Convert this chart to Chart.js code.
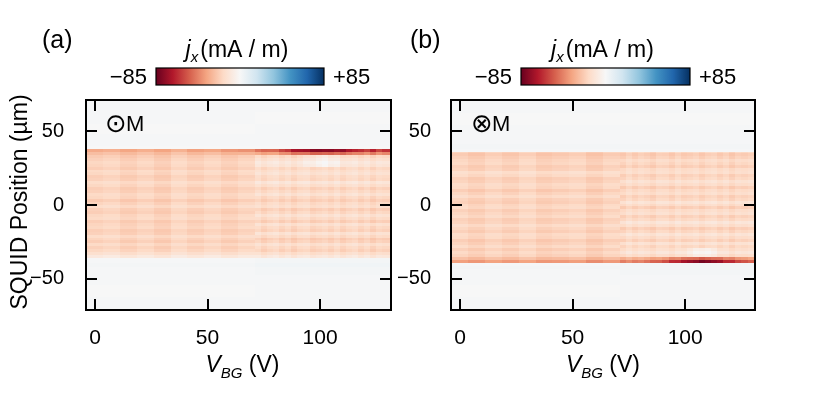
<!DOCTYPE html>
<html><head><meta charset="utf-8">
<script src="https://cdn.jsdelivr.net/npm/chart.js@4.4.0/dist/chart.umd.min.js"></script>
<style>
html,body{margin:0;padding:0;background:#fff;width:818px;height:398px;overflow:hidden}
.wrap{position:absolute;top:0;height:398px}
</style></head><body>
<div class="wrap" style="left:0;width:395px"><canvas id="ca" width="395" height="398"></canvas></div>
<div class="wrap" style="left:395px;width:423px"><canvas id="cb" width="423" height="398"></canvas></div>
<script>
// ---------------- data ----------------
const xTickValues = [0, 50, 100];
const yTickValues = [-50, 0, 50];
const colorbarMin = -85, colorbarMax = 85;
const colorbarLabels = ['\u221285', '+85'];
const panelLabels = ['(a)', '(b)'];
const magnetSymbols = ['\u2299', '\u2297'];
const magnetLabel = 'M';

// column edges along V_BG (V)
const vEdges = [-4, 3.7, 11.1, 18.7, 26.4, 33.7, 41, 48.6, 56, 63.5, 71,
  73.7, 76.4, 79.1, 81.8, 84.5, 87.2, 89.9, 92.6, 95.3, 98, 100.7, 103.4, 106.1,
  108.8, 111.5, 114.2, 116.9, 119.6, 122.3, 125, 127.7, 131.5];
const fineColumnsFrom = 71; // V where the finer scan columns start

// ---- panel (a) ----
const yEdgesA = [-71,-62,-54,-47,-42,-39,-36,-34,-32,-30,-28,-26,-24,-22,-20,-18,-16,-14,-12,-10,-8,-6,-4,-2,0,2,4,6,8,10,12,14,16,18,20,22,24,26,28,30,32,34,36,38,40,43,48,55,63,71];
const rowValuesA_left = [1,0,1,1,2,1,
  -9,-14,-18,-20,-17,-21,-19,-16,-20,-21,-18,-19,-21,-17,-18,-21,-20,-16,-19,-22,-18,-17,-20,-21,-18,-16,-20,-21,-18,-17,-21,-19,-18,-20,-22,-26,-32,
  0,1,1,0,1,1];
const rowValuesA_right = [1,1,1,2,3,2,
  -10,-15,-20,-18,-14,-20,-22,-17,-13,-20,-18,-14,-21,-17,-13,-18,-21,-15,-17,-21,-18,-13,-17,-20,-15,-11,-18,-17,-13,-15,-18,-12,-10,-14,-18,-26,-34,
  0,1,1,1,0,1];
const colShiftA = [0,1.5,-1.5,1,-2,2,-1,1.5,-1.5,1, 2,-1.5,1,2.5,-1,1.5,-2,1,2,-1.5, 0,1.5,-1,2,-1.5,1,2.5,-1,1.5,-2, 1,0];
const edgeStripeA = [0,0,0,0,0,0,-2,-3,-4,-8,
  -14,-14,-16,-18,-22,-28,-34,-38,-40,-42,-44,-44,-42,-42,-40,-36,-34,-28,-26,-30,-24,-28];
const stripeYA = 37;
const brightSpotA = [0,0,0,0,0,0,0,0,0,0, 0,0,0,0,0,0,0,0,3,6,8,9,7,5,2,0,0,0,0,0,0,0];
const spotRangeA = [27, 33];

// ---- panel (b) ----
const yEdgesB = [-71,-62,-54,-47,-43,-41,-39,-37,-35,-33,-31,-29,-27,-25,-23,-21,-19,-17,-15,-13,-11,-9,-7,-5,-3,-1,1,3,5,7,9,11,13,15,17,19,21,23,25,27,29,31,33,35,36,38,41,46,54,62,71];
const rowValuesB_left = [1,0,1,1,2,1,
  -32,-24,-20,-18,-21,-17,-20,-22,-18,-17,-21,-19,-16,-20,-21,-17,-19,-21,-17,-18,-21,-20,-16,-19,-22,-18,-17,-20,-21,-17,-15,-20,-21,-18,-19,-21,-23,-20,
  1,2,1,1,0,1];
const rowValuesB_right = [1,1,1,2,2,2,
  -34,-25,-16,-11,-15,-18,-13,-20,-16,-12,-18,-21,-15,-11,-17,-20,-14,-16,-21,-16,-12,-18,-20,-15,-17,-21,-16,-13,-18,-20,-15,-16,-21,-18,-16,-20,-22,-18,
  1,2,1,1,0,1];
const colShiftB = [1,-1.5,1.5,-1,2,-1.5,0,1.5,-2,1, -1.5,2,-1,1.5,0,-2,1.5,1,-1.5,2, -1,0,1.5,-1.5,1,2,-1,1.5,-2,1, 0,1.5];
const edgeStripeB = [-4,-4,-4,-4,-4,-4,-5,-5,-6,-6,
  -8,-8,-9,-10,-12,-14,-18,-22,-28,-32,-36,-40,-44,-46,-46,-44,-38,-32,-28,-24,-20,-18];
const stripeYB = -38;
const brightSpotB = [0,0,0,0,0,0,0,0,0,0, 0,0,0,0,0,0,0,0,0,0,2,5,8,10,9,5,2,0,0,0,0,0];
const spotRangeB = [-34, -29];

// ---------------- colour map (RdBu) ----------------
const rdbu = ['#67001f','#b2182b','#d6604d','#f4a582','#fddbc7','#f7f7f7','#d1e5f0','#92c5de','#4393c3','#2166ac','#053061'];
const rdbuRGB = rdbu.map(h => [parseInt(h.slice(1,3),16), parseInt(h.slice(3,5),16), parseInt(h.slice(5,7),16)]);
function colorFor(v) {
  let t = (v - colorbarMin) / (colorbarMax - colorbarMin);
  t = Math.max(0, Math.min(1, t));
  const p = t * (rdbu.length - 1);
  const i = Math.min(rdbu.length - 2, Math.floor(p));
  const f = p - i;
  const a = rdbuRGB[i], b = rdbuRGB[i + 1];
  return 'rgb(' + [0,1,2].map(k => Math.round(a[k] + (b[k] - a[k]) * f)).join(',') + ')';
}

function buildCells(yEdges, rowLeft, rowRight, colShift, stripe, stripeY, inward, spot, spotRange) {
  const cells = [];
  let sRow = 0;
  for (let r = 0; r < yEdges.length - 1; r++) if (yEdges[r] <= stripeY && stripeY < yEdges[r + 1]) sRow = r;
  for (let c = 0; c < vEdges.length - 1; c++) {
    const fine = vEdges[c] >= fineColumnsFrom;
    for (let r = 0; r < yEdges.length - 1; r++) {
      let v = fine ? rowRight[r] : rowLeft[r];
      if (v < -8) v += colShift[c];
      if (r === sRow) v += stripe[c];
      if (r === sRow + inward) v += 0.55 * stripe[c];
      const yc = (yEdges[r] + yEdges[r + 1]) / 2;
      if (yc >= spotRange[0] && yc <= spotRange[1]) v += spot[c];
      cells.push({x0: vEdges[c], x1: vEdges[c + 1], y0: yEdges[r], y1: yEdges[r + 1], v});
    }
  }
  return cells;
}

const FONT = '"Liberation Sans", Arial, Helvetica, sans-serif';

function heatPlugin(cells) {
  return {
    id: 'heat',
    beforeDatasetsDraw(chart) {
      const {ctx, chartArea: a, scales: {x, y}} = chart;
      ctx.save();
      ctx.beginPath(); ctx.rect(a.left, a.top, a.right - a.left, a.bottom - a.top); ctx.clip();
      for (const c of cells) {
        const X0 = Math.round(x.getPixelForValue(c.x0)), X1 = Math.round(x.getPixelForValue(c.x1));
        const Yt = Math.round(y.getPixelForValue(c.y1)), Yb = Math.round(y.getPixelForValue(c.y0));
        ctx.fillStyle = colorFor(c.v);
        ctx.fillRect(X0, Yt, X1 - X0, Yb - Yt);
      }
      ctx.restore();
    }
  };
}

const framePlugin = {
  id: 'frame',
  afterDraw(chart) {
    const {ctx, chartArea: a, scales: {x, y}} = chart;
    ctx.save();
    ctx.strokeStyle = '#000'; ctx.lineWidth = 2;
    ctx.strokeRect(a.left, a.top, a.right - a.left, a.bottom - a.top);
    const L = 11;
    ctx.beginPath();
    for (const v of xTickValues) {
      const px = Math.round(x.getPixelForValue(v));
      ctx.moveTo(px, a.bottom); ctx.lineTo(px, a.bottom - L);
      ctx.moveTo(px, a.top); ctx.lineTo(px, a.top + L);
    }
    for (const v of yTickValues) {
      const py = Math.round(y.getPixelForValue(v));
      ctx.moveTo(a.left, py); ctx.lineTo(a.left + L, py);
      ctx.moveTo(a.right, py); ctx.lineTo(a.right - L, py);
    }
    ctx.stroke();
    ctx.restore();
  }
};

function drawParts(ctx, parts, cx, baseY) {
  let total = 0;
  for (const p of parts) { ctx.font = p.font; p.w = ctx.measureText(p.t).width; total += p.w + (p.gap || 0); }
  let xx = cx - total / 2;
  ctx.textAlign = 'left'; ctx.textBaseline = 'alphabetic';
  for (const p of parts) { xx += (p.gap || 0); ctx.font = p.font; ctx.fillText(p.t, xx, baseY + (p.dy || 0)); xx += p.w; }
}

function decoPlugin(cfg) {
  return {
    id: 'deco',
    afterDraw(chart) {
      const {ctx, chartArea: a} = chart;
      ctx.save();
      ctx.fillStyle = '#000';
      // panel label
      ctx.font = '25px ' + FONT; ctx.textAlign = 'left'; ctx.textBaseline = 'alphabetic';
      ctx.fillText(cfg.panel, a.left + cfg.panelDx, 48);
      // colour bar
      const bl = a.left + 70, bw = cfg.barW, bt = 68, bh = 17;
      const g = ctx.createLinearGradient(bl, 0, bl + bw, 0);
      rdbu.forEach((c, i) => g.addColorStop(i / (rdbu.length - 1), c));
      ctx.fillStyle = g; ctx.fillRect(bl, bt, bw, bh);
      ctx.strokeStyle = '#000'; ctx.lineWidth = 1.2; ctx.strokeRect(bl, bt, bw, bh);
      ctx.fillStyle = '#000';
      ctx.font = '22px ' + FONT;
      ctx.textAlign = 'right'; ctx.fillText(colorbarLabels[0], bl - 9, 84);
      ctx.textAlign = 'left'; ctx.fillText(colorbarLabels[1], bl + bw + 9, 84);
      drawParts(ctx, [
        {t: 'j', font: 'italic 23px ' + FONT},
        {t: 'x', font: 'italic 15px ' + FONT, dy: 5},
        {t: '(mA / m)', font: '23px ' + FONT, gap: 2}
      ], bl + bw / 2 - 3, 57);
      // magnetisation symbol
      ctx.textAlign = 'left';
      ctx.font = '26px "DejaVu Sans", ' + FONT;
      ctx.fillText(cfg.sym, a.left + cfg.magDx, 132);
      ctx.font = '22px ' + FONT;
      ctx.fillText(magnetLabel, a.left + cfg.magDx + 21, 131);
      // x title
      drawParts(ctx, [
        {t: 'V', font: 'italic 23px ' + FONT},
        {t: 'BG', font: 'italic 15px ' + FONT, dy: 6},
        {t: ' (V)', font: '23px ' + FONT}
      ], (a.left + a.right) / 2 + cfg.xTitleDx, 372);
      // y title
      if (cfg.yTitle) {
        ctx.translate(27, 202);
        ctx.rotate(-Math.PI / 2);
        ctx.font = '23px ' + FONT; ctx.textAlign = 'center'; ctx.textBaseline = 'alphabetic';
        ctx.fillText(cfg.yTitle, 0, 0);
      }
      ctx.restore();
    }
  };
}

function tickLabel(v) { return v < 0 ? '\u2212' + Math.abs(v) : String(v); }

function makeChart(id, opt) {
  return new Chart(document.getElementById(id), {
    type: 'scatter',
    data: {datasets: [{data: [], pointRadius: 0}]},
    options: {
      responsive: false, animation: false, events: [],
      layout: {padding: {left: 0, right: opt.padRight, top: 100, bottom: 0}},
      plugins: {legend: {display: false}, tooltip: {enabled: false}},
      scales: {
        x: {type: 'linear', min: opt.xmin, max: opt.xmax,
            grid: {display: false}, border: {display: false},
            ticks: {font: {family: FONT, size: 21}, color: '#000', padding: 8, maxRotation: 0, callback: tickLabel},
            afterBuildTicks: s => { s.ticks = xTickValues.map(v => ({value: v})); },
            afterFit: s => { s.height = 88; }},
        y: {type: 'linear', min: -71, max: 71,
            grid: {display: false}, border: {display: false},
            ticks: {font: {family: FONT, size: 20}, color: '#000', padding: opt.yPad, callback: tickLabel},
            afterBuildTicks: s => { s.ticks = yTickValues.map(v => ({value: v})); },
            afterFit: s => { s.width = opt.yWidth; }}
      }
    },
    plugins: [heatPlugin(opt.cells), framePlugin, decoPlugin(opt.deco)]
  });
}

const cellsA = buildCells(yEdgesA, rowValuesA_left, rowValuesA_right, colShiftA, edgeStripeA, stripeYA, -1, brightSpotA, spotRangeA);
const cellsB = buildCells(yEdgesB, rowValuesB_left, rowValuesB_right, colShiftB, edgeStripeB, stripeYB, 1, brightSpotB, spotRangeB);

makeChart('ca', {xmin: -4, xmax: 131.5, padRight: 4, yWidth: 86, yPad: 14, cells: cellsA,
  deco: {panel: panelLabels[0], panelDx: -44, barW: 168, sym: magnetSymbols[0], magDx: 19, xTitleDx: 4, yTitle: 'SQUID Position (\u00b5m)'}});
makeChart('cb', {xmin: -4, xmax: 131, padRight: 63, yWidth: 56, yPad: 12, cells: cellsB,
  deco: {panel: panelLabels[1], panelDx: -41, barW: 169, sym: magnetSymbols[1], magDx: 20, xTitleDx: 0, yTitle: null}});
</script>
</body></html>
